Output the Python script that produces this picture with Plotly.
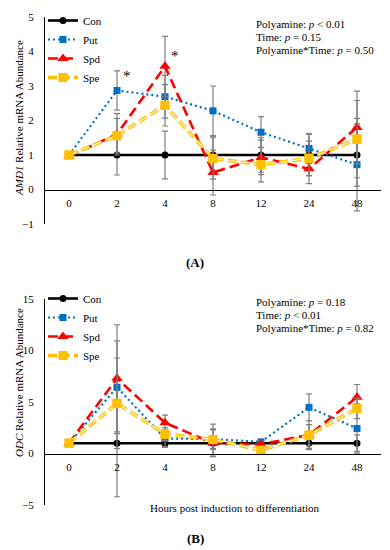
import plotly.graph_objects as go

hours = ["0", "2", "4", "8", "12", "24", "48"]
series_names = ["Con", "Put", "Spd", "Spe"]

# Panel A: AMD1
amd1_con = [1, 1, 1, 1, 1, 1, 1]
amd1_put = [1.0, 2.87, 2.69, 2.28, 1.66, 1.19, 0.72]
amd1_spd = [0.97, 1.6, 3.57, 0.49, 0.93, 0.6, 1.8]
amd1_spe = [1.0, 1.56, 2.44, 0.9, 0.72, 0.9, 1.46]
amd1_con_err = [0, 0.58, 0.69, 0.55, 0.5, 0.6, 0.9]
amd1_put_err = [0, 0.57, 0.62, 0.72, 0.45, 0.44, 1.34]
amd1_spd_err = [0, 0.6, 0.87, 0.65, 0.5, 0.43, 1.05]
amd1_spe_err = [0, 0.5, 0.6, 0.6, 0.5, 0.5, 1.12]

# Panel B: ODC
odc_con = [1, 1, 1, 1, 1, 1, 1]
odc_put = [1.0, 6.43, 1.46, 1.4, 1.13, 4.48, 2.43]
odc_spd = [1.0, 7.3, 2.98, 1.0, 0.9, 1.8, 5.45]
odc_spe = [1.0, 4.87, 1.88, 1.36, 0.32, 1.78, 4.38]
odc_con_err = [0, 5.2, 0.4, 0.5, 0.2, 0.5, 0.8]
odc_put_err = [0, 4.5, 0.8, 1.0, 0.2, 1.3, 2.4]
odc_spd_err = [0, 5.2, 0.75, 1.3, 0.3, 1.0, 1.25]
odc_spe_err = [0, 4.4, 0.6, 1.5, 0.3, 1.4, 1.0]

amd1_stats = ["Polyamine: <i>p</i> &lt; 0.01", "Time: <i>p</i> = 0.15", "Polyamine*Time: <i>p</i> = 0.50"]
odc_stats = ["Polyamine: <i>p</i> = 0.18", "Time: <i>p</i> &lt; 0.01", "Polyamine*Time: <i>p</i> = 0.82"]
star_hours = ["2", "4"]
star_y = [3.3, 3.86]

W, H = 390, 550
FONT = "Liberation Serif"
styles = {
    "Con": dict(color="#000000", width=2.6, dash="solid", symbol="circle", size=7),
    "Put": dict(color="#0070C0", width=2.2, dash="2px,3px", symbol="square", size=7),
    "Spd": dict(color="#FF0000", width=2.6, dash="10px,5px", symbol="triangle-up", size=10),
    "Spe": dict(color="#FFC000", width=3.6, dash="9px,4px", symbol="square", size=9),
}

def px_x(p):
    return p / W

def px_y(p):
    return 1 - p / H

xdom = [px_x(45), px_x(381)]
ydomA = [px_y(224), px_y(17)]
ydomB = [px_y(505), px_y(299)]
yrA = [-1, 5]
yrB = [-5, 15]

fig = go.Figure()

panels = [
    ("x", "y", "legend", [amd1_con, amd1_put, amd1_spd, amd1_spe],
     [amd1_con_err, amd1_put_err, amd1_spd_err, amd1_spe_err]),
    ("x2", "y2", "legend2", [odc_con, odc_put, odc_spd, odc_spe],
     [odc_con_err, odc_put_err, odc_spd_err, odc_spe_err]),
]
for xa, ya, lg, vals, errs in panels:
    for name, v, e in zip(series_names, vals, errs):
        s = styles[name]
        fig.add_trace(go.Scatter(
            x=hours, y=v, name=name, xaxis=xa, yaxis=ya, legend=lg,
            mode="lines+markers",
            line=dict(color=s["color"], width=s["width"], dash=s["dash"]),
            marker=dict(color=s["color"], symbol=s["symbol"], size=s["size"]),
            error_y=dict(type="data", array=e, visible=True, color="#7F7F7F",
                         thickness=1.2, width=3),
        ))
        if name == "Spe":
            fig.add_trace(go.Scatter(
                x=hours, y=v, xaxis=xa, yaxis=ya, showlegend=False, hoverinfo="skip",
                mode="lines", line=dict(color="#FFF2CC", width=1.2, dash=s["dash"]),
            ))
            fig.add_trace(go.Scatter(
                x=hours, y=v, xaxis=xa, yaxis=ya, showlegend=False, hoverinfo="skip",
                mode="markers", marker=dict(color=s["color"], symbol=s["symbol"], size=s["size"]),
            ))

def xpos(ydom, yr):
    return ydom[0] + (0 - yr[0]) / (yr[1] - yr[0]) * (ydom[1] - ydom[0])

tickfont = dict(family=FONT, size=11, color="black")
xcommon = dict(type="category", range=[-0.5, 6.5], domain=xdom, showline=True,
               linecolor="black", linewidth=1, showgrid=False, zeroline=False,
               ticks="outside", ticklen=3, tickcolor="rgba(0,0,0,0)", tickfont=tickfont,
               anchor="free", automargin=False)
ycommon = dict(showline=True, linecolor="black", linewidth=1, showgrid=False,
               zeroline=False, ticks="outside", ticklen=8, tickcolor="rgba(0,0,0,0)",
               tickfont=tickfont, automargin=False)

fig.update_layout(
    width=W, height=H, margin=dict(l=0, r=0, t=0, b=0, autoexpand=False),
    paper_bgcolor="white", plot_bgcolor="white",
    font=dict(family=FONT, color="black"),
    xaxis=dict(**xcommon, position=xpos(ydomA, yrA)),
    xaxis2=dict(**xcommon, position=xpos(ydomB, yrB)),
    yaxis=dict(**ycommon, domain=ydomA, range=yrA, tickvals=[-1, 0, 1, 2, 3, 4, 5],
               ticktext=["\u22121", "0", "1", "2", "3", "4", "5"], anchor="x"),
    yaxis2=dict(**ycommon, domain=ydomB, range=yrB, tickvals=[-5, 0, 5, 10, 15],
                ticktext=["\u22125", "0", "5", "10", "15"], anchor="x2"),
    legend=dict(x=px_x(43), y=px_y(6), xanchor="left", yanchor="top",
                font=dict(family=FONT, size=11), itemwidth=30, bgcolor="rgba(0,0,0,0)",
                tracegroupgap=0),
    legend2=dict(x=px_x(43), y=px_y(284), xanchor="left", yanchor="top",
                 font=dict(family=FONT, size=11), itemwidth=30, bgcolor="rgba(0,0,0,0)",
                 tracegroupgap=0),
    showlegend=True,
)

ann = []
for i, t in enumerate(amd1_stats):
    ann.append(dict(text=t, x=px_x(254), y=px_y([24, 37, 50][i]), xref="paper", yref="paper",
                    xanchor="left", yanchor="middle", showarrow=False,
                    font=dict(family=FONT, size=11)))
for i, t in enumerate(odc_stats):
    ann.append(dict(text=t, x=px_x(254), y=px_y([302, 315, 328][i]), xref="paper", yref="paper",
                    xanchor="left", yanchor="middle", showarrow=False,
                    font=dict(family=FONT, size=11)))
for h, yv in zip(star_hours, star_y):
    ann.append(dict(text="*", x=hours.index(h), y=yv, xref="x", yref="y", xshift=10,
                    showarrow=False, font=dict(family=FONT, size=15)))
ann.append(dict(text="<i>AMD1</i> Relative mRNA Abundance", x=px_x(19), y=px_y(118),
                xref="paper", yref="paper", xanchor="center", yanchor="middle",
                textangle=-90, showarrow=False, font=dict(family=FONT, size=11)))
ann.append(dict(text="<i>ODC</i> Relative mRNA Abundance", x=px_x(19), y=px_y(383),
                xref="paper", yref="paper", xanchor="center", yanchor="middle",
                textangle=-90, showarrow=False, font=dict(family=FONT, size=11)))
ann.append(dict(text="Hours post induction to differentiation", x=px_x(235), y=px_y(508),
                xref="paper", yref="paper", xanchor="center", yanchor="middle",
                showarrow=False, font=dict(family=FONT, size=11)))
ann.append(dict(text="<b>(A)</b>", x=px_x(195), y=px_y(262), xref="paper", yref="paper",
                xanchor="center", yanchor="middle", showarrow=False, font=dict(family=FONT, size=13)))
ann.append(dict(text="<b>(B)</b>", x=px_x(195), y=px_y(538), xref="paper", yref="paper",
                xanchor="center", yanchor="middle", showarrow=False, font=dict(family=FONT, size=13)))
fig.update_layout(annotations=ann)

fig.write_html("out.html", config={"displayModeBar": False},
               post_script="document.body.style.margin='0px';")
